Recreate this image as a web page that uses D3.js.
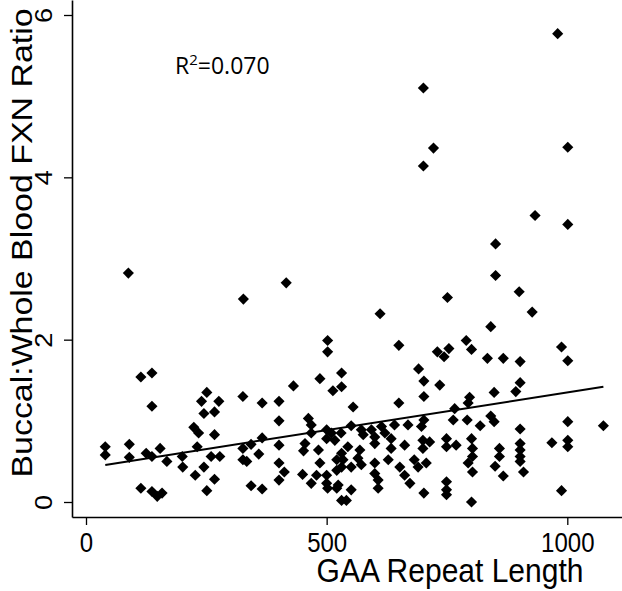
<!DOCTYPE html>
<html>
<head>
<meta charset="utf-8">
<script src="https://cdn.jsdelivr.net/npm/d3@7"></script>
<style>
  body { margin: 0; background: #fff; }
  svg { display: block; }
</style>
</head>
<body>
<div id="chart"></div>
<script>
// GAA repeat length (x) and buccal:whole blood FXN ratio (y)
const gaaRepeat = [
  980, 701, 722, 701, 1001, 933, 1001, 851, 851, 900, 751, 88, 416, 327, 611, 927, 841,
  114, 137, 137, 40, 40, 90, 90, 125, 137, 154, 168, 200, 201, 227, 114, 137, 148, 158,
  251, 240, 245, 224, 234, 231, 245, 251,
  276, 267, 267, 260, 278, 267, 326, 366, 401, 401, 431, 366, 326, 343, 326, 334, 359,
  401, 401, 412, 401, 343, 366, 450, 468, 462, 468, 468, 455, 452, 486, 502, 502, 513,
  531, 531, 483, 486, 500, 500, 479, 500, 500, 502, 521, 531, 521, 521, 531, 531, 517, 510,
  650, 730, 744, 754, 790, 801, 555, 650, 691, 702, 735, 702, 797, 794, 766, 763, 792,
  702, 697, 669, 641, 614, 593, 572, 551, 530, 576, 600, 621, 600, 634, 662, 700, 714,
  700, 749, 749, 769, 801, 544, 569, 634, 534, 565, 572, 551, 600, 628, 652, 682, 690,
  707, 600, 607, 607, 662, 673, 702, 749, 749, 749, 801, 794, 541, 551, 524,
  834, 867, 902, 988, 1001, 902, 893, 848, 841, 848, 819, 902, 1001, 1075, 968, 1001,
  1001, 902, 902, 902, 902, 859, 859, 850, 867, 909, 803, 803, 803, 988
];
const buccalRatio = [
  5.77, 5.10, 4.36, 4.14, 4.37, 3.53, 3.42, 3.18, 2.79, 2.59, 2.52, 2.82, 2.70, 2.50, 2.32, 2.34, 2.16,
  1.54, 1.59, 1.18, 0.68, 0.58, 0.71, 0.55, 0.60, 0.56, 0.66, 0.50, 0.56, 0.43, 0.33, 0.17, 0.13, 0.07, 0.11,
  1.35, 1.24, 1.09, 0.92, 0.85, 0.68, 0.43, 0.14,
  1.24, 1.11, 0.83, 0.56, 0.56, 0.28, 1.30, 1.22, 1.24, 1.00, 1.43, 0.79, 0.66, 0.71, 0.52, 0.50, 0.59,
  0.70, 0.48, 0.37, 0.27, 0.20, 0.16, 0.34, 0.23, 1.03, 0.95, 0.85, 0.72, 0.63, 1.52, 1.99, 1.85, 1.37,
  1.59, 1.42, 0.64, 0.48, 0.89, 0.78, 0.33, 0.33, 0.23, 0.17, 0.17, 0.02, 0.52, 0.39, 0.60, 0.43, 0.76, 0.85,
  1.93, 1.85, 1.79, 1.89, 1.99, 1.88, 1.17, 1.22, 1.64, 1.49, 1.44, 1.30, 1.29, 1.22, 1.15, 1.01, 1.01,
  1.01, 0.93, 0.95, 0.95, 0.93, 0.89, 0.89, 0.94, 0.85, 0.83, 0.80, 0.85, 0.72, 0.78, 0.70, 0.76, 0.74,
  0.66, 0.78, 0.68, 0.70, 0.78, 0.68, 0.64, 0.66, 0.52, 0.54, 0.46, 0.43, 0.48, 0.52, 0.43, 0.52, 0.43,
  0.48, 0.35, 0.27, 0.17, 0.33, 0.23, 0.11, 0.25, 0.15, 0.09, 0.00, 0.48, 0.02, 0.15, 0.21,
  1.77, 1.77, 1.73, 1.91, 1.74, 1.47, 1.36, 1.35, 1.06, 0.99, 0.94, 0.90, 0.99, 0.94, 0.73, 0.76,
  0.68, 0.72, 0.64, 0.56, 0.50, 0.66, 0.56, 0.44, 0.32, 0.37, 0.66, 0.56, 0.37, 0.14
];
const xTicks = [0, 500, 1000];
const yTicks = [0, 2, 4, 6];
// fitted line as drawn in the figure
const fitIntercept = 0.42;
const fitSlope = 0.00093;
const rSquared = '0.070';

const W = 622, H = 591;
const stretch = 1.13; // text in the figure is a bit taller than wide

const svg = d3.select('#chart').append('svg')
  .attr('width', W)
  .attr('height', H)
  .style('font-family', '"Liberation Sans", Arial, sans-serif');

const frame = {left: 72, right: 622, top: 0, bottom: 517};

// scales pinned to the tick positions, then widened to the frame
const x = d3.scaleLinear().domain([0, 1000]).range([86, 567.3]);
x.domain([x.invert(frame.left), x.invert(frame.right)]).range([frame.left, frame.right]);
const y = d3.scaleLinear().domain([0, 6]).range([502, 15]);
y.domain([y.invert(frame.bottom), y.invert(frame.top)]).range([frame.bottom, frame.top]);

const data = gaaRepeat.map((g, i) => ({gaa: g, ratio: buccalRatio[i]}));

// axes
const xAxis = svg.append('g')
  .attr('transform', 'translate(0,' + frame.bottom + ')')
  .call(d3.axisBottom(x).tickValues(xTicks).tickSize(8).tickSizeOuter(0).tickFormat(d3.format('d')));
const yAxis = svg.append('g')
  .attr('transform', 'translate(' + frame.left + ',0)')
  .call(d3.axisLeft(y).tickValues(yTicks).tickSize(8).tickSizeOuter(0).tickFormat(d3.format('d')));

[xAxis, yAxis].forEach(a => {
  a.select('.domain').attr('stroke', '#000').attr('stroke-width', 1.6);
  a.selectAll('.tick line').attr('stroke', '#000').attr('stroke-width', 1.3);
  a.selectAll('.tick text')
    .attr('fill', '#000')
    .style('font-size', '24px')
    .attr('x', null).attr('y', null).attr('dy', null)
    .attr('text-anchor', 'middle');
});
xAxis.selectAll('.tick text')
  .attr('transform', 'translate(0,35) scale(1,' + stretch + ')');
yAxis.selectAll('.tick text')
  .attr('transform', 'translate(-20,0) scale(1,' + stretch + ') rotate(-90)');

// axis titles
svg.append('text')
  .attr('transform', 'translate(450,582) scale(1,' + stretch + ')')
  .attr('text-anchor', 'middle')
  .style('font-size', '30px')
  .text('GAA Repeat Length');

svg.append('text')
  .attr('transform', 'translate(32,243) scale(1,' + stretch + ') rotate(-90)')
  .attr('text-anchor', 'middle')
  .style('font-size', '30px')
  .text('Buccal:Whole Blood FXN Ratio');

// fit line over the data range
const xExt = d3.extent(gaaRepeat);
svg.append('path')
  .datum(xExt.map(g => [g, fitIntercept + fitSlope * g]))
  .attr('fill', 'none')
  .attr('stroke', '#000')
  .attr('stroke-width', 2)
  .attr('d', d3.line().x(d => x(d[0])).y(d => y(d[1])));

// diamond markers
const diamond = d3.symbol().type(d3.symbolSquare).size(62);
svg.append('g').selectAll('path')
  .data(data)
  .join('path')
  .attr('transform', d => 'translate(' + x(d.gaa) + ',' + y(d.ratio) + ') rotate(45)')
  .attr('d', diamond)
  .attr('fill', '#000');

// R-squared annotation
const r2 = svg.append('text')
  .attr('x', 175)
  .attr('y', 74)
  .style('font-family', '"Open Sans", sans-serif')
  .style('font-size', '23px')
  .attr('fill', '#000');
r2.append('tspan').text('R');
r2.append('tspan').attr('dy', -9).style('font-size', '15px').text('2');
r2.append('tspan').attr('dy', 9).text('=' + rSquared);
</script>
</body>
</html>
